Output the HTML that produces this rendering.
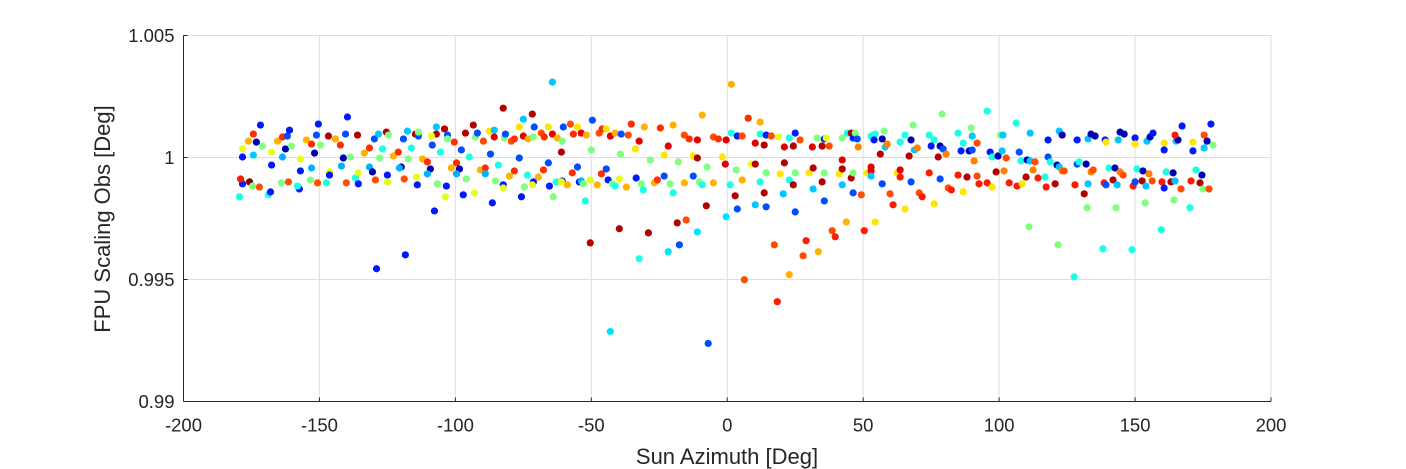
<!DOCTYPE html>
<html><head><meta charset="utf-8"><style>
body{margin:0;background:#fff;}
svg{display:block;font-family:"Liberation Sans",Arial,sans-serif;}
</style></head><body>
<svg id="chart" width="1406" height="469" viewBox="0 0 1406 469" xmlns="http://www.w3.org/2000/svg">
<rect width="1406" height="469" fill="#fff"/>
<g id="grid"></g>
<g id="points"></g>
<g id="axes"></g>
<text x="727" y="464" font-size="22" fill="#262626" text-anchor="middle">Sun Azimuth [Deg]</text>
<text transform="translate(110,219) rotate(-90)" font-size="22" fill="#262626" text-anchor="middle">FPU Scaling Obs [Deg]</text>
</svg>
<script>
const xTicks=[-200,-150,-100,-50,0,50,100,150,200];
const yTicks=[0.99,0.995,1,1.005];
const yTickLabels=["0.99","0.995","1","1.005"];
const azimuth=[-179.4,-178.3,-179.0,-175.7,-174.6,-172.1,-178.3,-178.3,-176.1,-174.3,-173.2,-171.7,-174.3,-171.0,-168.8,-168.0,-167.6,-167.6,-165.4,-163.6,-161.8,-161.0,-162.5,-160.3,-163.6,-164.0,-161.4,-157.0,-157.0,-157.4,-158.1,-154.8,-152.9,-151.8,-150.4,-151.1,-149.6,-152.9,-153.3,-150.7,-147.4,-146.3,-146.3,-146.7,-144.1,-142.3,-141.2,-139.7,-140.4,-138.6,-141.9,-140.1,-136.8,-135.7,-135.7,-136.0,-133.5,-131.6,-129.8,-128.3,-126.8,-127.9,-131.6,-130.5,-129.4,-125.0,-125.0,-125.4,-124.6,-122.8,-121.0,-119.1,-117.6,-116.2,-117.3,-119.9,-120.6,-118.8,-114.3,-114.0,-114.7,-113.6,-113.6,-112.1,-110.3,-109.2,-110.3,-108.5,-107.0,-107.0,-108.8,-105.5,-106.6,-103.3,-103.7,-107.7,-118.4,-129.0,-104.0,-102.9,-102.9,-100.4,-97.8,-94.9,-99.6,-98.5,-101.5,-99.6,-96.0,-97.1,-93.0,-93.4,-96.3,-92.6,-91.9,-90.8,
-89.0,-89.0,-89.7,-87.1,-87.5,-85.7,-85.7,-86.4,-85.3,-84.2,-82.4,-82.4,-82.4,-82.0,-81.6,-79.4,-78.3,-78.3,-80.1,-76.5,-76.5,-75.0,-75.0,-75.7,-74.6,-73.5,-73.2,-71.7,-71.0,-71.3,-71.3,-71.7,-69.5,-68.4,-67.6,-67.3,-65.8,-65.8,-64.3,-64.3,-65.4,-64.0,-62.5,-61.0,-60.7,-60.3,-62.9,-60.7,-61.0,-58.8,-57.7,-56.6,-57.0,-55.1,-55.1,-53.7,-54.4,-53.7,-52.9,-52.2,-51.8,-50.4,-49.6,-50.0,-50.4,-47.8,-47.1,-46.0,-46.3,-44.5,-43.8,-44.5,-43.0,-42.3,-41.2,-41.2,-39.7,-39.7,-39.0,-39.3,-37.1,-36.4,-35.3,-33.8,-33.5,-32.4,-31.6,-30.9,-32.4,-43.0,-30.5,-29.0,-28.3,-26.8,-25.7,-24.6,-23.2,-23.2,-21.7,-21.7,-21.0,-19.9,-19.9,-18.4,-18.0,-17.6,-15.8,-15.8,-15.1,-14.0,-12.5,-12.5,-11.0,-11.0,-11.0,-10.3,-9.2,-9.2,-7.7,-7.4,-7.0,-5.1,-5.1,-3.3,-1.8,-0.4,-0.7,-0.4,1.1,1.5,
1.5,2.9,3.7,3.3,3.7,5.5,5.5,6.3,7.7,8.8,10.3,10.3,10.3,12.1,12.1,12.1,13.6,13.6,14.3,14.3,14.3,16.2,17.3,18.4,18.8,19.5,21.0,21.0,20.6,22.8,22.8,22.8,24.3,24.3,25.0,25.0,25.0,26.8,27.9,29.0,30.1,31.3,31.6,31.6,33.1,33.5,34.9,34.9,35.7,35.7,35.7,36.4,37.5,38.6,39.7,41.2,42.3,42.3,42.3,42.3,43.8,44.1,45.6,45.6,46.3,46.3,46.3,47.1,47.8,48.2,49.3,50.4,51.5,52.9,52.9,52.9,52.9,54.4,54.4,54.0,56.3,57.0,57.0,57.7,58.1,58.8,59.9,61.0,62.5,63.6,63.6,63.6,65.4,65.4,66.9,67.6,67.6,68.4,68.8,69.9,70.6,71.7,74.3,74.3,76.1,76.1,75.0,77.6,78.3,78.3,79.0,79.4,80.5,81.3,82.4,84.9,84.9,86.8,86.8,86.0,88.2,89.0,90.1,89.7,90.1,90.8,91.9,91.9,92.6,
95.6,95.6,96.7,97.4,97.4,98.9,99.6,100.4,101.4,101.1,101.8,102.6,103.7,106.3,106.6,107.4,108.1,108.5,109.9,110.3,111.0,111.4,111.4,112.5,113.2,114.3,116.9,117.3,118.0,118.0,118.8,120.6,121.3,121.7,122.1,122.1,123.2,123.2,123.9,127.6,127.9,128.7,128.7,129.4,131.3,132.0,132.4,132.7,132.7,133.8,133.8,134.6,135.3,138.2,138.6,139.0,139.3,139.3,140.4,141.9,142.6,143.0,143.8,143.4,144.5,144.5,145.6,146.0,148.9,149.3,150.0,150.0,150.0,150.7,152.6,152.9,153.7,154.4,154.0,155.5,155.1,156.3,156.6,159.6,159.9,160.7,160.7,160.7,161.4,163.2,164.0,164.3,165.1,164.7,165.8,164.7,166.9,167.3,170.2,170.6,171.3,171.3,172.4,173.9,174.6,175.0,175.4,175.4,176.5,177.2,177.9,178.7];
const scaling=[0.99839,0.99892,0.99912,0.99900,0.99883,0.99879,1.00035,1.00002,1.00067,1.00096,1.00063,1.00133,1.00010,1.00047,0.99847,0.99859,1.00022,0.99969,1.00067,1.00084,1.00088,1.00112,1.00035,1.00047,1.00002,0.99896,0.99900,0.99994,0.99945,0.99871,0.99883,1.00072,1.00055,1.00018,1.00137,1.00092,1.00051,0.99957,0.99908,0.99896,0.99896,0.99941,0.99928,1.00088,1.00076,1.00051,0.99998,1.00166,1.00096,1.00002,0.99965,0.99896,0.99916,0.99937,0.99892,1.00092,1.00018,1.00039,1.00076,1.00096,1.00035,0.99998,0.99961,0.99941,0.99908,0.99928,0.99900,1.00104,1.00092,1.00006,1.00022,1.00076,1.00108,1.00039,0.99994,0.99961,0.99957,0.99912,0.99920,0.99888,1.00096,1.00088,1.00104,0.99994,0.99982,0.99953,0.99933,1.00051,1.00125,1.00096,1.00088,1.00022,0.99892,0.99883,0.99839,0.99781,0.99601,0.99544,1.00117,1.00092,1.00076,1.00063,1.00031,1.00002,0.99978,0.99953,0.99957,0.99933,0.99912,0.99847,0.99855,1.00133,1.00100,1.00084,1.00100,0.99949,
0.99957,0.99933,1.00067,1.00014,1.00108,1.00084,1.00112,0.99814,0.99904,0.99969,1.00202,0.99888,0.99875,1.00080,1.00096,1.00067,1.00076,0.99945,0.99924,0.99998,1.00125,1.00157,1.00088,0.99839,0.99879,0.99928,1.00076,1.00178,1.00125,1.00084,0.99900,0.99888,0.99920,1.00100,0.99949,1.00084,0.99978,1.00125,1.00096,1.00309,0.99883,0.99839,1.00080,1.00022,1.00067,1.00125,0.99900,0.99904,0.99900,0.99888,1.00137,1.00096,0.99937,1.00125,0.99961,1.00100,0.99900,0.99904,0.99892,0.99822,1.00092,0.99650,1.00153,1.00031,0.99908,0.99888,1.00100,1.00117,0.99933,0.99953,0.99908,1.00117,1.00088,0.99892,0.99883,1.00100,0.99912,0.99708,1.00096,1.00014,0.99879,1.00092,1.00137,1.00035,0.99916,1.00067,0.99892,0.99867,0.99585,0.99287,1.00125,0.99691,0.99990,0.99896,0.99908,1.00121,0.99924,1.00010,1.00047,0.99614,0.99892,0.99855,1.00133,0.99732,0.99982,0.99642,0.99896,1.00092,0.99744,1.00076,0.99924,1.00006,1.00072,0.99998,0.99695,0.99900,0.99888,1.00174,0.99802,0.99961,0.99238,0.99896,1.00084,1.00076,1.00002,1.00072,0.99973,0.99757,0.99888,1.00300,
1.00100,0.99843,0.99789,0.99949,1.00088,0.99908,1.00088,0.99499,1.00161,0.99973,0.99973,1.00059,0.99806,1.00145,1.00096,0.99900,1.00051,0.99855,1.00092,0.99937,0.99798,1.00088,0.99642,0.99409,1.00084,0.99933,1.00043,0.99978,0.99851,0.99520,1.00080,0.99908,1.00047,0.99888,0.99777,1.00100,0.99937,1.00072,0.99597,0.99659,0.99937,1.00043,0.99871,0.99957,1.00080,0.99614,1.00047,0.99900,0.99822,1.00076,0.99937,1.00080,1.00047,0.99700,0.99675,0.99933,0.99990,0.99953,0.99888,1.00080,0.99736,1.00100,1.00100,0.99916,0.99855,1.00080,0.99937,1.00100,1.00076,1.00043,0.99847,0.99700,0.99937,0.99961,0.99945,0.99924,1.00088,0.99736,1.00096,1.00072,1.00014,1.00076,0.99892,1.00108,1.00043,1.00055,0.99851,0.99806,0.99937,0.99949,0.99920,1.00063,1.00092,0.99789,1.00006,1.00072,0.99900,1.00133,1.00031,1.00039,0.99855,0.99839,0.99937,1.00092,0.99810,1.00072,1.00047,1.00002,1.00047,0.99912,1.00178,1.00035,1.00014,0.99875,0.99867,0.99928,1.00100,0.99859,1.00059,1.00027,0.99920,1.00027,1.00031,1.00121,1.00088,0.99986,1.00059,0.99924,0.99892,
1.00190,0.99896,1.00022,1.00002,0.99879,0.99941,1.00006,1.00092,1.00092,1.00027,0.99945,0.99998,0.99896,1.00141,0.99883,1.00022,0.99986,0.99892,0.99920,0.99990,0.99716,1.00100,0.99986,0.99949,0.99982,0.99916,0.99920,0.99879,1.00072,1.00002,0.99982,0.99892,0.99969,0.99642,1.00108,0.99961,1.00092,0.99945,0.99945,0.99511,0.99888,1.00072,0.99973,0.99982,0.99851,0.99973,0.99794,1.00076,0.99892,1.00096,0.99941,0.99949,1.00088,0.99626,0.99896,1.00072,1.00063,0.99888,0.99957,0.99908,0.99957,0.99794,1.00072,0.99888,1.00104,0.99941,0.99928,1.00096,0.99622,0.99883,1.00080,1.00055,0.99900,0.99953,0.99904,0.99945,0.99814,1.00067,0.99883,1.00084,0.99933,0.99904,1.00100,0.99704,0.99900,0.99875,1.00059,1.00031,0.99941,0.99900,0.99937,0.99826,1.00067,0.99904,1.00072,1.00092,0.99871,1.00129,0.99794,0.99904,1.00027,1.00063,0.99949,0.99896,0.99928,0.99871,1.00039,1.00092,1.00067,0.99871,1.00137,1.00051];
const colorValue=[.4,.15,.85,1,.5,.8,.6,.15,.7,.83,.05,.15,.32,.5,.4,.15,.6,.15,.7,.83,.2,.15,.05,.5,.3,.5,.8,.6,.15,.15,.4,.7,.83,.05,.15,.2,.5,.3,.5,.8,.4,.6,.15,.95,.7,.83,.05,.15,.2,.5,.3,.8,.4,.6,.15,.95,.7,.83,.2,.32,.4,.5,.3,.05,.8,.15,.6,.95,.5,.7,.83,.2,.32,.4,.5,.05,.3,.8,.6,.15,.95,.2,.5,.7,.83,.05,.3,.2,.32,.95,.6,.4,.5,.15,.6,.15,.15,.15,.95,.2,.5,.83,.2,.4,.83,.05,.7,.3,.5,.15,.6,.95,.95,.5,.2,.7,
.83,.3,.8,.2,.65,.9,.32,.15,.5,.4,.95,.15,.6,.5,.2,.8,.83,.83,.7,.2,.65,.32,.9,.15,.5,.4,.7,.95,.2,.5,.15,.6,.7,.8,.83,.83,.2,.65,.9,.32,.15,.5,.7,.95,.5,.2,.4,.15,.6,.7,.8,.83,.83,.65,.2,.9,.15,.3,.5,.4,.7,.95,.2,.5,.6,.7,.8,.83,.83,.2,.15,.65,.9,.5,.4,.7,.6,.95,.2,.5,.7,.8,.83,.65,.15,.9,.5,.4,.4,.35,.7,.95,.5,.7,.83,.83,.2,.65,.9,.35,.5,.4,.7,.95,.5,.2,.7,.8,.8,.83,.2,.65,.9,.95,.35,.5,.4,.7,.95,.5,.2,.7,.8,.83,.65,.9,.9,.35,.4,.7,
.4,.95,.2,.5,.15,.7,.8,.8,.83,.6,.95,.9,.32,.7,.4,.4,.95,.95,.15,.5,.2,.8,.8,.85,.6,.65,.9,.95,.32,.7,.4,.4,.95,.95,.2,.15,.5,.8,.8,.85,.65,.9,.32,.95,.5,.7,.95,.95,.2,.15,.5,.6,.8,.8,.85,.65,.9,.95,.32,.5,.7,.4,.95,.95,.2,.15,.5,.5,.2,.75,.8,.85,.65,.9,.9,.32,.4,.65,.4,.15,.95,.05,.2,.5,.32,.75,.8,.85,.65,.9,.85,.4,.4,.65,.95,.05,.2,.5,.32,.75,.8,.85,.85,.4,.65,.4,.15,.95,.05,.2,.5,.2,.75,.8,.85,.85,.4,.65,.4,.15,.95,.05,.2,.5,.32,.75,.8,.8,.85,
.4,.85,.15,.4,.65,.95,.05,.5,.32,.32,.75,.8,.85,.4,.85,.2,.4,.65,.95,.05,.5,.32,.32,.75,.8,.85,.4,.85,.15,.2,.4,.95,.05,.5,.32,.32,.05,.75,.8,.4,.85,.15,.2,.4,.95,.05,.5,.32,.32,.05,.75,.8,.05,.4,.85,.15,.65,.2,.4,.95,.05,.5,.32,.32,.05,.75,.8,.05,.4,.85,.15,.65,.2,.4,.95,.05,.5,.32,.32,.05,.75,.8,.15,.4,.85,.15,.65,.15,.4,.95,.05,.5,.32,.32,.05,.85,.8,.15,.4,.85,.15,.65,.4,.95,.05,.5,.32,.8,.05,.8,.15,.5];

const NS="http://www.w3.org/2000/svg";
const L=183.5,R=1271,T=35.5,B=401.5;
const xMin=-200,xMax=200,yMin=0.99,yMax=1.005;
function xScale(v){return L+(v-xMin)/(xMax-xMin)*(R-L);}
function yScale(v){return B-(v-yMin)/(yMax-yMin)*(B-T);}
function jet(t){
  function c(x){return Math.max(0,Math.min(1,x));}
  const r=c(1.5-Math.abs(4*t-3)),g=c(1.5-Math.abs(4*t-2)),b=c(1.5-Math.abs(4*t-1));
  return "rgb("+Math.round(r*255)+","+Math.round(g*255)+","+Math.round(b*255)+")";
}
function mk(tag,attrs){const e=document.createElementNS(NS,tag);for(const k in attrs)e.setAttribute(k,attrs[k]);return e;}
const grid=document.getElementById('grid'),axes=document.getElementById('axes'),pts=document.getElementById('points');
xTicks.forEach(v=>{
  const x=xScale(v);
  const gl=mk('line',{x1:x,x2:x,y1:T,y2:B,stroke:'#dfdfdf','stroke-width':1});
  
  
  grid.appendChild(gl);
  const tk=mk('line',{x1:x,x2:x,y1:B,y2:B-4,stroke:'#262626','stroke-width':1});
  
  
  axes.appendChild(tk);
  const tx=mk('text',{x:x,y:B+30,'font-size':18.5,fill:'#262626','text-anchor':'middle'});
  tx.textContent=String(v);
  
  
  axes.appendChild(tx);
});
yTicks.forEach((v,i)=>{
  const y=yScale(v);
  const gl=mk('line',{x1:L,x2:R,y1:y,y2:y,stroke:'#dfdfdf','stroke-width':1});
  
  
  grid.appendChild(gl);
  const tk=mk('line',{x1:L,x2:L+4,y1:y,y2:y,stroke:'#262626','stroke-width':1});
  
  
  axes.appendChild(tk);
  const tx=mk('text',{x:L-9,y:y+6.5,'font-size':18.5,fill:'#262626','text-anchor':'end'});
  tx.textContent=yTickLabels[i];
  
  
  axes.appendChild(tx);
});
const xa=mk('line',{x1:L,x2:R,y1:B,y2:B,stroke:'#262626','stroke-width':1});


axes.appendChild(xa);
const ya=mk('line',{x1:L,x2:L,y1:T,y2:B,stroke:'#262626','stroke-width':1});


axes.appendChild(ya);
const n=Math.min(azimuth.length,scaling.length,colorValue.length);
for(let i=0;i<n;i++){
  const p=mk('circle',{cx:xScale(azimuth[i]),cy:yScale(scaling[i]),r:3.6,fill:jet(colorValue[i])});
  
  
  pts.appendChild(p);
}
</script>
</body></html>
